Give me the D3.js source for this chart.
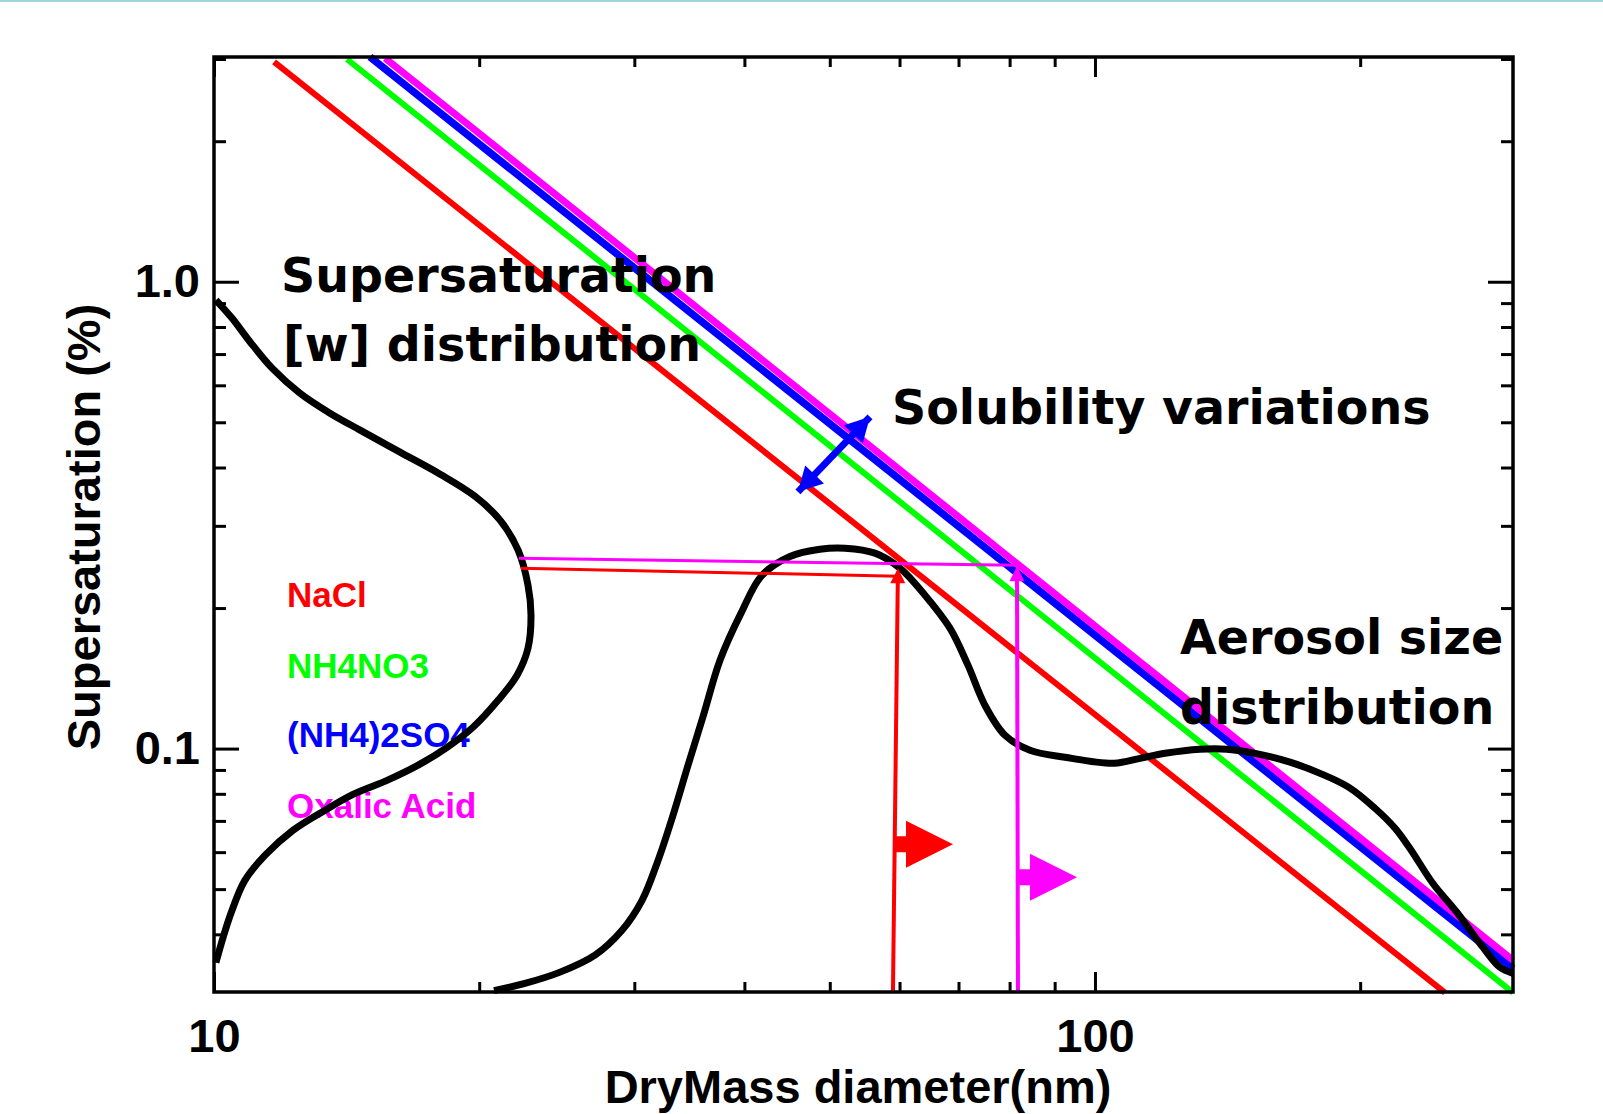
<!DOCTYPE html>
<html>
<head>
<meta charset="utf-8">
<script src="https://cdn.jsdelivr.net/npm/d3@7"></script>
<style>
  body { margin: 0; background: #ffffff; }
  svg { display: block; }
  .tick-label { font-family: "Liberation Sans", Arial, sans-serif; font-weight: bold; font-size: 47px; fill: #000; }
  .axis-label { font-family: "Liberation Sans", Arial, sans-serif; font-weight: bold; font-size: 47px; fill: #000; }
  .legend-label { font-family: "Liberation Sans", Arial, sans-serif; font-weight: bold; font-size: 35px; }
  .note { font-family: "DejaVu Sans", Verdana, sans-serif; font-weight: bold; font-size: 47.5px; fill: #000; }
</style>
</head>
<body>
<div id="chart"></div>
<script>
// Axis ranges and labelled ticks
const xRange = [10, 298.2];          // dry mass diameter (nm)
const yRange = [0.0301, 3.03];       // supersaturation (%)
const xTickLabels = [10, 100];
const yTickLabels = [0.1, 1.0];

// Critical supersaturation lines, end points [diameter, S]
const saltNames = ["NaCl", "NH4NO3", "(NH4)2SO4", "Oxalic Acid"];
const naclLine = [[11.70, 2.957], [249.6, 0.0300]];
const nh4no3Line = [[14.16, 2.997], [298.2, 0.0300]];
const amSulfLine = [[15.03, 3.031], [298.2, 0.0338]];
const oxalicLine = [[15.64, 3.012], [298.2, 0.0352]];

// Supersaturation [w] distribution (sketch curve along the left axis)
const wDistD = [10.05, 10.48, 10.99, 11.64, 12.52, 13.54, 14.65, 16.26, 18.06, 19.78,
  21.12, 22.14, 22.72, 22.90, 22.72, 22.08, 21.01, 19.68, 18.39, 17.13,
  15.72, 14.38, 13.37, 12.29, 11.43, 10.84, 10.48, 10.24, 10.05];
const wDistS = [0.9137, 0.836, 0.743, 0.653, 0.577, 0.523, 0.481, 0.4315, 0.387, 0.347,
  0.3085, 0.266, 0.2239, 0.1931, 0.164, 0.1436, 0.1269, 0.1111, 0.1006, 0.0926,
  0.0855, 0.0798, 0.0738, 0.0668, 0.0591, 0.0522, 0.0450, 0.0394, 0.0348];

// Aerosol size distribution (sketch curve)
const aerosolD = [20.79, 22.54, 24.71, 27.07, 29.05, 30.61, 31.92, 33.11, 34.52, 35.91,
  37.53, 39.65, 41.88, 45.06, 48.74, 52.03, 56.27, 60.08, 64.13, 68.45,
  71.75, 75.01, 79.04, 84.37, 92.46, 105.1, 112.5, 120.1, 131.6, 141.2,
  153.9, 166.5, 180.1, 194.2, 207.9, 219.1, 227.8, 241.9, 257.5, 275.7,
  288.2, 298.2];
const aerosolS = [0.0303, 0.0314, 0.0332, 0.0361, 0.0408, 0.0473, 0.0576, 0.0709, 0.0921, 0.1173,
  0.1546, 0.195, 0.2350, 0.2580, 0.2674, 0.2687, 0.2622, 0.2434, 0.2131, 0.1811,
  0.1509, 0.1238, 0.1068, 0.0992, 0.0958, 0.0930, 0.0953, 0.0977, 0.0997, 0.0997,
  0.0972, 0.0935, 0.0885, 0.0826, 0.0745, 0.0675, 0.0611, 0.0514, 0.0446, 0.0375,
  0.0340, 0.0330];

// Annotation arrows [from, to] in data units
const solubilityArrow = [[46.01, 0.3548], [55.54, 0.5136]];
const naclArrowH = [[22.31, 0.2434], [59.8, 0.2340]];
const naclArrowV = [[58.98, 0.0303], [59.75, 0.2434]];
const oxalicArrowH = [[22.19, 0.2557], [81.5, 0.2471]];
const oxalicArrowV = [[81.77, 0.0303], [81.56, 0.2459]];
const naclFlag = [[59.29, 0.06235], [69.0, 0.06235]];
const oxalicFlag = [[81.77, 0.0530], [95.4, 0.0530]];

// Colours
const saltColors = ["#ff0000", "#00ff00", "#0000ff", "#ff00ff"];
const curveColor = "#000000";

const width = 1603, height = 1114;
const margin = {top: 57, right: 90, bottom: 122, left: 214};
const innerWidth = width - margin.left - margin.right;
const innerHeight = height - margin.top - margin.bottom;

const svg = d3.select("#chart")
    .append("svg")
    .attr("width", width)
    .attr("height", height)
    .attr("viewBox", `0 0 ${width} ${height}`);

svg.append("rect")
    .attr("width", width)
    .attr("height", height)
    .attr("fill", "#ffffff");

// thin slide border at the very top
svg.append("rect")
    .attr("width", width)
    .attr("height", 2)
    .attr("fill", "#9fd4da");

const innerChart = svg.append("g")
    .attr("transform", `translate(${margin.left},${margin.top})`);

/**********/
/* Scales */
/**********/
const xScale = d3.scaleLog().domain(xRange).range([0, innerWidth]);
const yScale = d3.scaleLog().domain(yRange).range([innerHeight, 0]);

const line = d3.line()
    .x(d => xScale(d[0]))
    .y(d => yScale(d[1]));

const smooth = d3.line()
    .x(d => xScale(d[0]))
    .y(d => yScale(d[1]))
    .curve(d3.curveCatmullRom.alpha(0.5));

/*****************************/
/* Critical supersaturations */
/*****************************/
const saltLines = [naclLine, nh4no3Line, amSulfLine, oxalicLine];
const saltWidths = [6, 6, 7.5, 7];
saltLines.forEach((pts, i) => {
    innerChart.append("path")
        .attr("d", line(pts))
        .attr("fill", "none")
        .attr("stroke", saltColors[i])
        .attr("stroke-width", saltWidths[i]);
});

// legend (plain coloured words)
innerChart.selectAll(".legend-label")
    .data(saltNames)
    .join("text")
    .attr("class", "legend-label")
    .attr("x", 73)
    .attr("y", (d, i) => [550, 621, 690, 761][i])
    .attr("fill", (d, i) => saltColors[i])
    .text(d => d);

/*****************/
/* Sketch curves */
/*****************/
innerChart.append("path")
    .attr("d", smooth(wDistD.map((d, i) => [d, wDistS[i]])))
    .attr("fill", "none")
    .attr("stroke", curveColor)
    .attr("stroke-width", 7)
    .attr("stroke-linejoin", "round");

innerChart.append("path")
    .attr("d", smooth(aerosolD.map((d, i) => [d, aerosolS[i]])))
    .attr("fill", "none")
    .attr("stroke", curveColor)
    .attr("stroke-width", 7)
    .attr("stroke-linejoin", "round");

/***************/
/* Annotations */
/***************/
function headPath(x0, y0, x1, y1, len, half) {
    const a = Math.atan2(y1 - y0, x1 - x0);
    const bx = x1 - len * Math.cos(a), by = y1 - len * Math.sin(a);
    const nx = -Math.sin(a) * half, ny = Math.cos(a) * half;
    return `M${x1},${y1}L${bx + nx},${by + ny}L${bx - nx},${by - ny}Z`;
}

function thinArrow(pts, color, w, withHead) {
    const x0 = xScale(pts[0][0]), y0 = yScale(pts[0][1]);
    const x1 = xScale(pts[1][0]), y1 = yScale(pts[1][1]);
    const a = Math.atan2(y1 - y0, x1 - x0);
    const back = withHead ? 12 : 0;
    innerChart.append("line")
        .attr("x1", x0).attr("y1", y0)
        .attr("x2", x1 - back * Math.cos(a)).attr("y2", y1 - back * Math.sin(a))
        .attr("stroke", color)
        .attr("stroke-width", w);
    if (withHead) {
        innerChart.append("path")
            .attr("d", headPath(x0, y0, x1, y1, 15, 7.5))
            .attr("fill", color);
    }
}

thinArrow(oxalicArrowH, saltColors[3], 3, false);
thinArrow(naclArrowH, saltColors[0], 3, false);
thinArrow(naclArrowV, saltColors[0], 4, true);
thinArrow(oxalicArrowV, saltColors[3], 4, true);

// block arrows ("flags") pointing to larger sizes
function blockArrow(pts, color) {
    const x0 = xScale(pts[0][0]), x1 = xScale(pts[1][0]), y = yScale(pts[0][1]);
    const headLen = 47, headHalf = 23.5, stemHalf = 8;
    const xb = x1 - headLen;
    innerChart.append("path")
        .attr("d", `M${x0},${y - stemHalf}L${xb},${y - stemHalf}L${xb},${y - headHalf}` +
            `L${x1},${y}L${xb},${y + headHalf}L${xb},${y + stemHalf}L${x0},${y + stemHalf}Z`)
        .attr("fill", color);
}
blockArrow(naclFlag, saltColors[0]);
blockArrow(oxalicFlag, saltColors[3]);

// double headed solubility arrow
{
    const x0 = xScale(solubilityArrow[0][0]), y0 = yScale(solubilityArrow[0][1]);
    const x1 = xScale(solubilityArrow[1][0]), y1 = yScale(solubilityArrow[1][1]);
    innerChart.append("line")
        .attr("x1", x0).attr("y1", y0).attr("x2", x1).attr("y2", y1)
        .attr("stroke", saltColors[2])
        .attr("stroke-width", 7);
    innerChart.append("path").attr("d", headPath(x0, y0, x1, y1, 24, 13)).attr("fill", saltColors[2]);
    innerChart.append("path").attr("d", headPath(x1, y1, x0, y0, 24, 13)).attr("fill", saltColors[2]);
}

// text notes
const notes = [
    {text: "Supersaturation", x: 67, y: 235},
    {text: "[w] distribution", x: 69, y: 304},
    {text: "Solubility variations", x: 678, y: 367},
    {text: "Aerosol size", x: 966, y: 597},
    {text: "distribution", x: 966, y: 667}
];
innerChart.selectAll(".note")
    .data(notes)
    .join("text")
    .attr("class", "note")
    .attr("x", d => d.x)
    .attr("y", d => d.y)
    .text(d => d.text);

/************/
/* Add axes */
/************/
const xMinor = xScale.ticks().filter(v => !xTickLabels.includes(v));
const yMinor = yScale.ticks().filter(v => !yTickLabels.includes(v));

function styleAxis(g) {
    g.select(".domain").remove();
    g.selectAll("line").attr("stroke", "#000").attr("stroke-width", 3);
}

// bottom
innerChart.append("g")
    .attr("transform", `translate(0,${innerHeight})`)
    .call(d3.axisBottom(xScale).tickValues(xMinor).tickSize(-10).tickFormat(""))
    .call(styleAxis);
innerChart.append("g")
    .attr("transform", `translate(0,${innerHeight})`)
    .call(d3.axisBottom(xScale).tickValues(xTickLabels).tickSize(-20).tickPadding(27).tickFormat(d3.format("d")))
    .call(styleAxis)
    .selectAll("text").attr("class", "tick-label").attr("font-family", null).attr("font-size", null);

// top
innerChart.append("g")
    .call(d3.axisTop(xScale).tickValues(xMinor).tickSize(-10).tickFormat(""))
    .call(styleAxis);
innerChart.append("g")
    .call(d3.axisTop(xScale).tickValues(xTickLabels).tickSize(-20).tickFormat(""))
    .call(styleAxis);

// left
innerChart.append("g")
    .call(d3.axisLeft(yScale).tickValues(yMinor).tickSize(-12).tickFormat(""))
    .call(styleAxis);
innerChart.append("g")
    .call(d3.axisLeft(yScale).tickValues(yTickLabels).tickSize(-25).tickPadding(14).tickFormat(d3.format(".1f")))
    .call(styleAxis)
    .selectAll("text").attr("class", "tick-label").attr("font-family", null).attr("font-size", null);

// right
innerChart.append("g")
    .attr("transform", `translate(${innerWidth},0)`)
    .call(d3.axisRight(yScale).tickValues(yMinor).tickSize(-12).tickFormat(""))
    .call(styleAxis);
innerChart.append("g")
    .attr("transform", `translate(${innerWidth},0)`)
    .call(d3.axisRight(yScale).tickValues(yTickLabels).tickSize(-25).tickFormat(""))
    .call(styleAxis);

// frame
innerChart.append("rect")
    .attr("width", innerWidth)
    .attr("height", innerHeight)
    .attr("fill", "none")
    .attr("stroke", "#000")
    .attr("stroke-width", 3.5);

// axis titles
svg.append("text")
    .attr("class", "axis-label")
    .attr("text-anchor", "middle")
    .attr("x", 858)
    .attr("y", 1103)
    .text("DryMass diameter(nm)");

svg.append("text")
    .attr("class", "axis-label")
    .attr("text-anchor", "middle")
    .attr("transform", "translate(100,527) rotate(-90)")
    .text("Supersaturation (%)");
</script>
</body>
</html>
